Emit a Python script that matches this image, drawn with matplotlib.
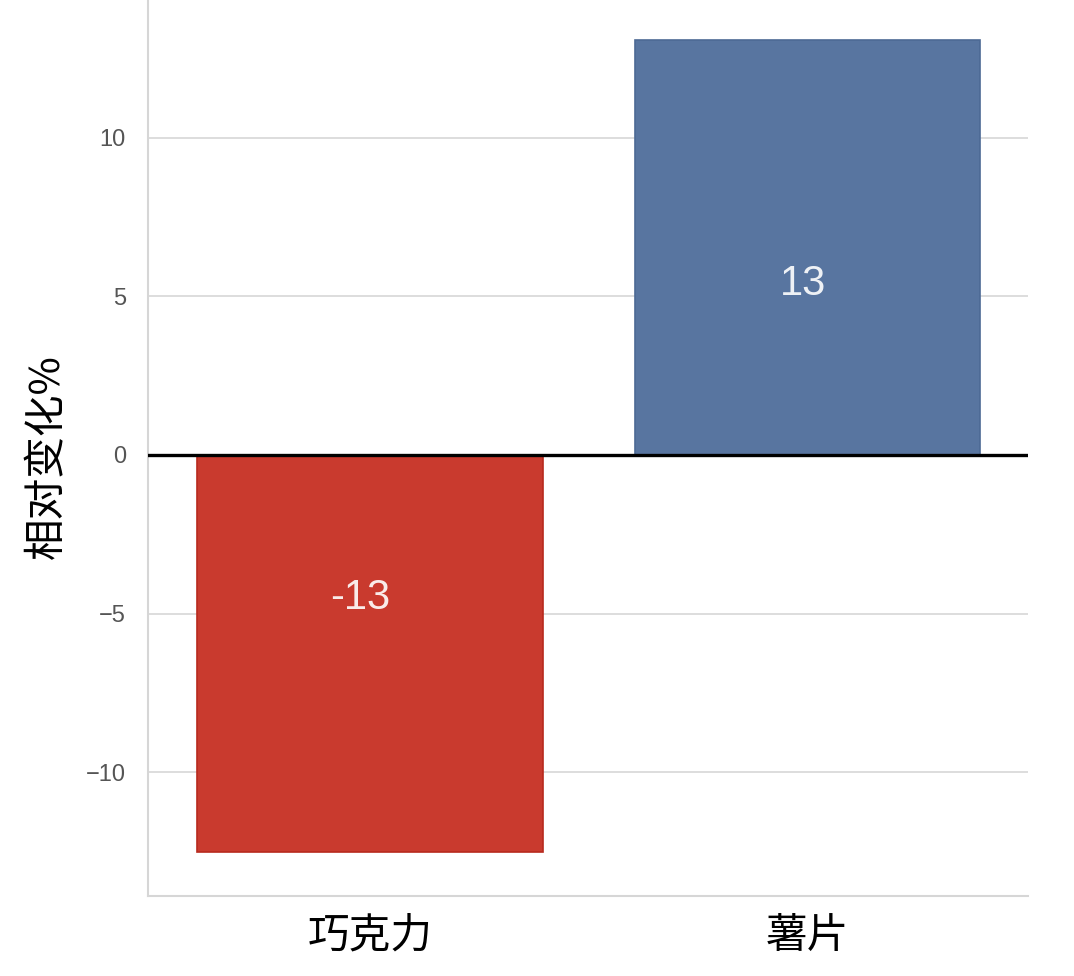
import matplotlib
matplotlib.use("Agg")
import matplotlib.pyplot as plt

categories = ["巧克力", "薯片"]
values = [-12.52, 13.09]
labels = ["-13", "13"]
label_pos = [-4.5, 5.4]
colors = ["#c93a2e", "#5875a0"]
edge_colors = ["#b82a1e", "#4d6a95"]
yticks = [-10, -5, 0, 5, 10]

plt.rcParams['font.family'] = ['Liberation Sans', 'Noto Sans CJK SC', 'DejaVu Sans']

fig = plt.figure(figsize=(10.74, 9.76), dpi=100)
ax = fig.add_axes([148/1074, 80/976, (1028-148)/1074, 896/976])

x = list(range(len(categories)))
ax.bar(x, values, width=0.79, color=colors, edgecolor=edge_colors, linewidth=1.2, zorder=3)
ax.axhline(0, color="black", linewidth=2.4, zorder=4)

offsets = [-10, -4]
for xi, lab, yp, dx in zip(x, labels, label_pos, offsets):
    ax.annotate(lab, (xi, yp), xytext=(dx, 0), textcoords="offset pixels",
                ha="center", va="center", fontsize=30, color="white", alpha=0.9, zorder=5)

ax.set_xlim(-0.507, 1.504)
ax.set_ylim(-13.91, 14.35)
ax.set_yticks(yticks)
ax.set_yticklabels(["\u221210", "\u22125", "0", "5", "10"], fontsize=17, color="#555555")
ax.set_xticks(x)
ax.set_xticklabels(categories, fontsize=30, family=['Noto Sans CJK SC'])
ax.tick_params(axis="y", length=0, pad=16)
ax.tick_params(axis="x", length=0, pad=14)
ax.grid(axis="y", color="#dddddd", linewidth=1.4, zorder=0)
ax.set_axisbelow(True)
for s in ["top", "right"]:
    ax.spines[s].set_visible(False)
for s in ["left", "bottom"]:
    ax.spines[s].set_color("#d6d6d6")
    ax.spines[s].set_linewidth(1.5)
ax.set_ylabel("相对变化%", fontsize=30, family=['Noto Sans CJK SC', 'DejaVu Sans'])
ax.yaxis.set_label_coords(-0.091, 0.49)

fig.savefig("out.png", dpi=100, facecolor="white")
